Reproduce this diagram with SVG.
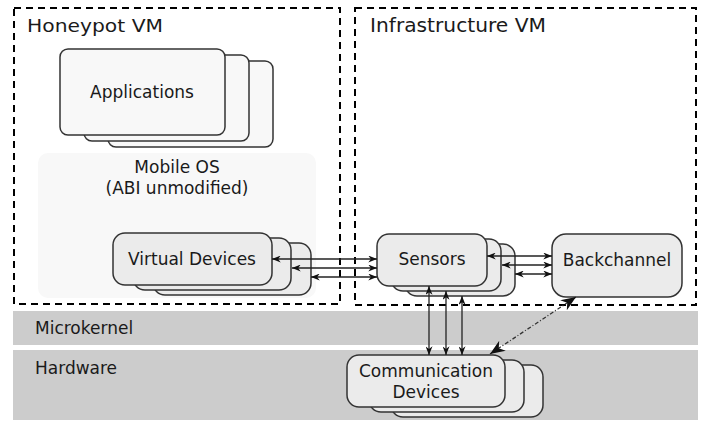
<svg xmlns="http://www.w3.org/2000/svg" width="709" height="422" viewBox="0 0 709 422">
<style>
text{font-family:"DejaVu Sans","Liberation Sans",sans-serif;fill:#1a1a1a}
.lbl{font-size:17px;text-anchor:middle}
.band{fill:#cccccc}
.vm{fill:none;stroke:#000;stroke-width:2;stroke-dasharray:7,5}
.app{fill:#f8f8f8;stroke:#333;stroke-width:1.5}
.dev{fill:#ebebeb;stroke:#333;stroke-width:1.5}
.con{stroke:#222;stroke-width:1.3;fill:none;marker-start:url(#ah);marker-end:url(#ah)}
.dd{stroke:#333;stroke-width:1.3;fill:none;stroke-dasharray:4,2,1,2;marker-start:url(#ahb);marker-end:url(#ahb)}
</style>
<defs>
<marker id="ah" viewBox="0 0 10 8" refX="10" refY="4" markerWidth="9" markerHeight="7" markerUnits="userSpaceOnUse" orient="auto-start-reverse">
<path d="M0,0 L10,4 L0,8 L3,4 Z" fill="#111"/>
</marker>
<marker id="ahb" viewBox="0 0 10 8" refX="10" refY="4" markerWidth="16" markerHeight="12" markerUnits="userSpaceOnUse" orient="auto-start-reverse">
<path d="M0,0 L10,4 L0,8 L3,4 Z" fill="#111"/>
</marker>
</defs>
<rect width="709" height="422" fill="#fff"/>
<g id="microkernel">
<rect class="band" x="13" y="311" width="685" height="34"/>
<text x="35" y="334" style="font-size:17px">Microkernel</text>
</g>
<g id="hardware">
<rect class="band" x="13" y="350" width="685" height="70"/>
<text x="35" y="374" style="font-size:17px">Hardware</text>
</g>
<g id="honeypot-vm">
<rect class="vm" x="14" y="8" width="326" height="296"/>
<text x="27" y="32" style="font-size:18px" textLength="136" lengthAdjust="spacingAndGlyphs">Honeypot VM</text>
</g>
<g id="infrastructure-vm">
<rect class="vm" x="355" y="8" width="341" height="297"/>
<text x="370" y="32" style="font-size:20px" textLength="176" lengthAdjust="spacingAndGlyphs">Infrastructure VM</text>
</g>
<g id="mobile-os">
<rect x="38" y="153" width="278" height="145" rx="10" fill="#f8f8f8"/>
<text class="lbl" x="177" y="173">Mobile OS</text>
<text class="lbl" x="177" y="194">(ABI unmodified)</text>
</g>
<g id="applications">
<rect class="app" x="108" y="61" width="165" height="86" rx="8"/>
<rect class="app" x="84" y="55" width="165" height="86" rx="8"/>
<rect class="app" x="60" y="49" width="165" height="86" rx="8"/>
<text class="lbl" x="142" y="98">Applications</text>
</g>
<g id="virtual-devices">
<rect class="dev" x="153" y="243" width="158" height="52" rx="12"/>
<rect class="dev" x="133" y="238" width="158" height="52" rx="12"/>
<rect class="dev" x="113" y="233" width="159" height="52" rx="12"/>
<text class="lbl" x="192" y="265">Virtual Devices</text>
</g>
<g id="sensors">
<rect class="dev" x="405" y="244" width="110" height="52" rx="12"/>
<rect class="dev" x="391" y="239" width="110" height="52" rx="12"/>
<rect class="dev" x="377" y="234" width="110" height="52" rx="12"/>
<text class="lbl" x="432" y="265">Sensors</text>
</g>
<g id="backchannel">
<rect class="dev" x="552" y="234" width="130" height="63" rx="14"/>
<text class="lbl" x="617" y="266">Backchannel</text>
</g>
<g id="communication-devices">
<rect class="dev" x="391" y="365" width="152" height="52" rx="12"/>
<rect class="dev" x="369" y="360" width="155" height="52" rx="12"/>
<rect class="dev" x="347" y="355" width="158" height="52" rx="12"/>
<text class="lbl" x="426" y="377">Communication</text>
<text class="lbl" x="426" y="398">Devices</text>
</g>
<g id="connectors">
<line class="con" x1="272" y1="259" x2="377" y2="259"/>
<line class="con" x1="292" y1="268" x2="377" y2="268"/>
<line class="con" x1="311" y1="277" x2="377" y2="277"/>
<line class="con" x1="487" y1="256" x2="552" y2="256"/>
<line class="con" x1="502" y1="265" x2="552" y2="265"/>
<line class="con" x1="515" y1="274" x2="552" y2="274"/>
<line class="con" x1="429" y1="286" x2="429" y2="355"/>
<line class="con" x1="446" y1="291" x2="446" y2="355"/>
<line class="con" x1="462" y1="296" x2="462" y2="355"/>
<line class="dd" x1="490" y1="354" x2="576" y2="297"/>
</g>
</svg>
